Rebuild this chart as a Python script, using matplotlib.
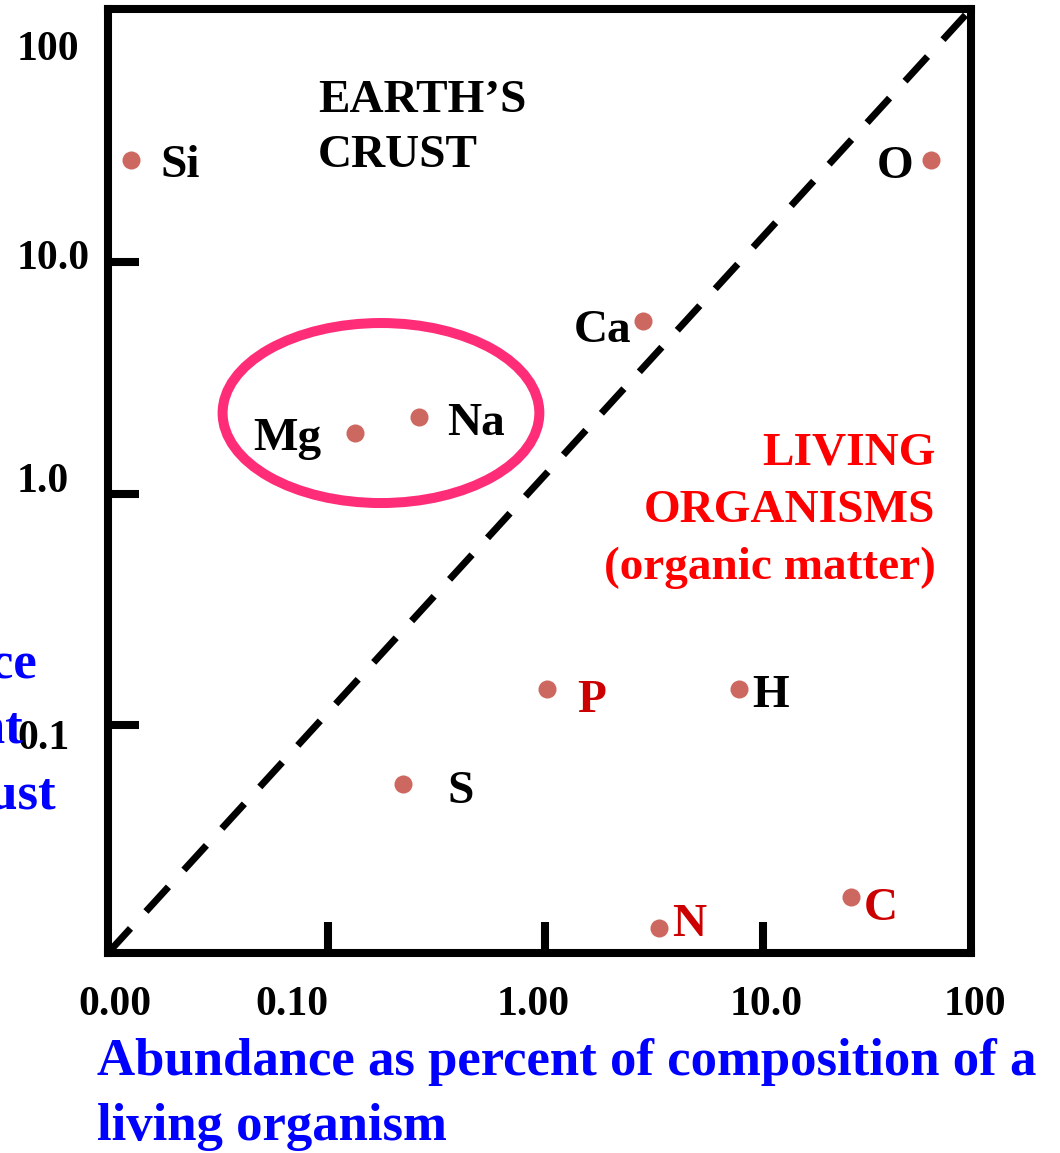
import matplotlib
matplotlib.use("Agg")
import matplotlib.pyplot as plt
from matplotlib.patches import Ellipse
from matplotlib.transforms import ScaledTranslation

# element abundances (% of living organism, % of earth's crust)
elements = ['Si', 'O', 'Ca', 'Mg', 'Na', 'P', 'H', 'S', 'N', 'C']
organism_pct = [0.0125, 59.5, 2.82, 0.134, 0.264, 1.02, 7.8, 0.222, 3.34, 25.5]
crust_pct = [27.6, 27.6, 5.57, 1.83, 2.14, 0.143, 0.143, 0.0557, 0.0133, 0.0181]
bio_elements = ['P', 'N', 'C']

x_ticks = [0.1, 1, 10]
x_ticklabels = ['0.10', '1.00', '10.0']
y_ticks = [0.1, 1, 10]
y_ticklabels = ['0.1', '1.0', '10.0']

# label placement (offset points, horizontal alignment)
label_pos = {
    'Si': (21, -12.5, 'left'),
    'O': (-13, -13, 'right'),
    'Ca': (-8, -15, 'right'),
    'Mg': (-24, -12, 'right'),
    'Na': (20, -13, 'left'),
    'P': (21.5, -16.5, 'left'),
    'H': (9.4, -13, 'left'),
    'S': (32, -13.7, 'left'),
    'N': (9.4, -5.8, 'left'),
    'C': (9.4, -16.5, 'left'),
}

plt.rcParams['font.family'] = ['Liberation Serif', 'DejaVu Serif']
plt.rcParams['font.weight'] = 'bold'

fig = plt.figure(figsize=(10.6, 11.53), dpi=100)
ax = fig.add_axes([108 / 1060, 200 / 1153, 863 / 1060, 944 / 1153])
ax.set_xscale('log')
ax.set_yscale('log')
ax.set_xlim(0.00979, 90.9)
ax.set_ylim(0.01037, 124)

for s in ax.spines.values():
    s.set_linewidth(5.8)

ax.plot(organism_pct, crust_pct, 'o', color='#CD6860', markersize=13,
        markeredgewidth=0, zorder=3)

# diagonal reference
ax.plot([0, 1], [0, 1], transform=ax.transAxes, color='black', lw=5,
        ls=(0, (4.8, 3.3)), dash_capstyle='butt', zorder=2)

for el, xo, yo in zip(elements, organism_pct, crust_pct):
    dx, dy, ha = label_pos[el]
    col = '#CC0000' if el in bio_elements else 'black'
    ax.annotate(el, (xo, yo), xytext=(dx, dy), textcoords='offset points',
                ha=ha, va='baseline', fontsize=34, color=col, fontweight='bold')

ell = Ellipse((0.3163, 0.572), 0.367, 0.1907, transform=ax.transAxes,
              fill=False, edgecolor='#FF2D78', lw=7.2, zorder=4)
ax.add_patch(ell)

ax.text(0.2433, 0.925, "EARTH\u2019S\nCRUST", transform=ax.transAxes,
        fontsize=34, fontweight='bold', ha='left', va='top', linespacing=1.42)
ax.text(0.959, 0.551, "LIVING\nORGANISMS\n(organic matter)", transform=ax.transAxes,
        fontsize=34, fontweight='bold', color='#FF0000', ha='right', va='top',
        multialignment='right', linespacing=1.46)

ax.minorticks_off()
ax.set_xticks(x_ticks, x_ticklabels)
ax.set_yticks(y_ticks, y_ticklabels, ha='left')
ax.set_xticks(list(ax.get_xlim()), ['0.00', '100'], minor=True)
ax.set_yticks([100], ['100'], minor=True, ha='left')
ax.tick_params(which='major', direction='in', length=22, width=5.8,
               top=False, right=False)
ax.tick_params(which='minor', length=0, top=False, right=False)
ax.tick_params(axis='x', which='both', pad=24, labelsize=30)
ax.tick_params(axis='y', which='both', pad=65.5, labelsize=30)

# nudge tick labels to where the original hand-placed them (pixels)
def nudge(labels, shifts):
    for lbl, (sx, sy) in zip(labels, shifts):
        lbl.set_transform(lbl.get_transform() +
                          ScaledTranslation(sx / 100, sy / 100, fig.dpi_scale_trans))

nudge(ax.xaxis.get_majorticklabels(), [(-36, 0), (-12, 0), (4, 0)])
nudge(ax.xaxis.get_minorticklabels(), [(7, 0), (4, 0)])
nudge(ax.yaxis.get_majorticklabels(), [(0, -9), (0, 16), (0, 8)])
nudge(ax.yaxis.get_minorticklabels(), [(0, -15)])

fig.text(97 / 1060, 1 - 1140 / 1153, "Abundance as percent of composition of a\nliving organism",
         color='#0000FF', fontsize=38, fontweight='bold', ha='left', va='baseline',
         linespacing=1.46)
fig.text(-92 / 1060, 1 - 641 / 1153, "Abundance\nas percent\nEarth's crust",
         color='#0000FF', fontsize=38, fontweight='bold', ha='center', va='top',
         multialignment='center', linespacing=1.46, zorder=0)

fig.savefig('out.png', dpi=100)
